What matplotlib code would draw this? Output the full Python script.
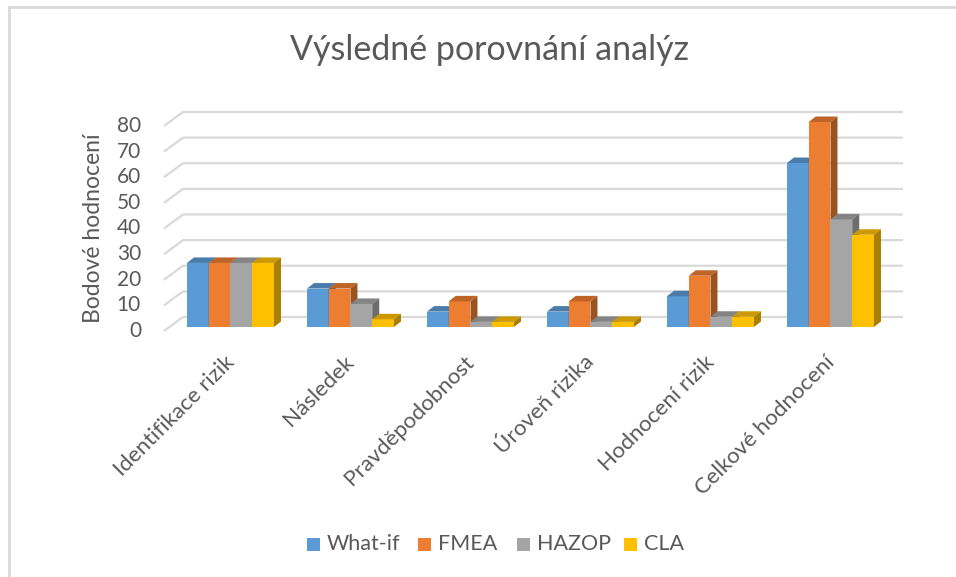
import matplotlib
matplotlib.use("Agg")
import matplotlib.pyplot as plt
from matplotlib.patches import Polygon, Rectangle
from matplotlib.lines import Line2D
from matplotlib.colors import to_rgb

# data
categories = ["Identifikace rizik", "Následek", "Pravděpodobnost",
              "Úroveň rizika", "Hodnocení rizik", "Celkové hodnocení"]
series_names = ["What-if", "FMEA", "HAZOP", "CLA"]
what_if = [25, 15, 6, 6, 12, 64]
fmea = [25, 15, 10, 10, 20, 80]
hazop = [25, 9, 2, 2, 4, 42]
cla = [25, 3, 2, 2, 4, 36]
yticks = [0, 10, 20, 30, 40, 50, 60, 70, 80]

colors = ["#5B9BD5", "#ED7D31", "#A5A5A5", "#FFC000"]
text_color = "#595959"
grid_color = "#D9D9D9"

plt.rcParams["font.family"] = ["Lato", "DejaVu Sans"]

W, H = 956, 577
fig = plt.figure(figsize=(W / 100, H / 100), dpi=100)
# front plane: x 164..884 px, y 331 (0) .. 126 (80) px
ax = fig.add_axes([164 / W, (H - 331) / H, 720 / W, 205 / H])
ax.set_xlim(-0.5, 5.5)
ax.set_ylim(0, 80)
ax.axis("off")

px_x = 1 / 120.0
px_y = 80 / 205.0

# back wall gridlines with depth diagonal
gdx, gdy = 19 * px_x, 14 * px_y
for v in yticks:
    ax.plot([-0.5, -0.5 + gdx, 5.5 + gdx], [v, v + gdy, v + gdy],
            color=grid_color, lw=1.6, clip_on=False, zorder=1,
            solid_capstyle="butt")
    ax.text(-0.5 - 23 * px_x, v, str(v), ha="right", va="center",
            fontsize=15, color=text_color)


def shade(c, f):
    r, g, b = to_rgb(c)
    return (r * f, g * f, b * f)


# bars with pseudo-3D top and side faces
w = 21.75 * px_x
base = 4 * px_y
ddx, ddy = 7 * px_x, 5.5 * px_y
all_vals = [what_if, fmea, hazop, cla]
for j, (name, vals, col) in enumerate(zip(series_names, all_vals, colors)):
    xs = [i + 0.054 - 2 * w + j * w for i in range(len(categories))]
    ax.bar(xs, vals, width=w, bottom=base, align="edge", color=col,
           linewidth=0, zorder=3 + j, clip_on=False, label=name)
    for x0, v in zip(xs, vals):
        t = base + v
        top = Polygon([(x0, t), (x0 + w, t), (x0 + w + ddx, t + ddy),
                       (x0 + ddx, t + ddy)], closed=True,
                      facecolor=shade(col, 0.8), edgecolor="none",
                      zorder=3 + j, clip_on=False)
        side = Polygon([(x0 + w, base), (x0 + w + ddx, base + ddy),
                        (x0 + w + ddx, t + ddy), (x0 + w, t)], closed=True,
                       facecolor=shade(col, 0.66), edgecolor="none",
                       zorder=3 + j, clip_on=False)
        ax.add_patch(top)
        ax.add_patch(side)

# category labels
for i, cat in enumerate(categories):
    ax.text(i + 0.0, -8.2, cat, rotation=45, rotation_mode="anchor",
            ha="right", va="top", fontsize=16, color=text_color)

ax.text(-0.5 - 70 * px_x, 40.0, "Bodové hodnocení", rotation=90,
        ha="center", va="center", fontsize=16.5, color=text_color)

fig.text(490 / W, 1 - 50 / H, "Výsledné porovnání analýz", ha="center",
         va="center", fontsize=24.5, color=text_color)

# legend: colour squares + labels
leg_x = [307, 418, 517, 624]
leg_y = 544
for lx, name, col in zip(leg_x, series_names, colors):
    fig.add_artist(Rectangle((lx / W, (H - leg_y - 6.5) / H), 13 / W, 13 / H,
                             transform=fig.transFigure, facecolor=col,
                             edgecolor="none"))
    fig.text((lx + 20) / W, 1 - leg_y / H, name, ha="left", va="center",
             fontsize=15.5, color=text_color)

# chart border (top and left edges visible)
fig.add_artist(Line2D([9 / W, 9 / W], [0, 1 - 7 / H], color=grid_color, lw=2))
fig.add_artist(Line2D([9 / W, 1], [1 - 7 / H, 1 - 7 / H], color=grid_color, lw=2))

fig.savefig("out.png", dpi=100)
